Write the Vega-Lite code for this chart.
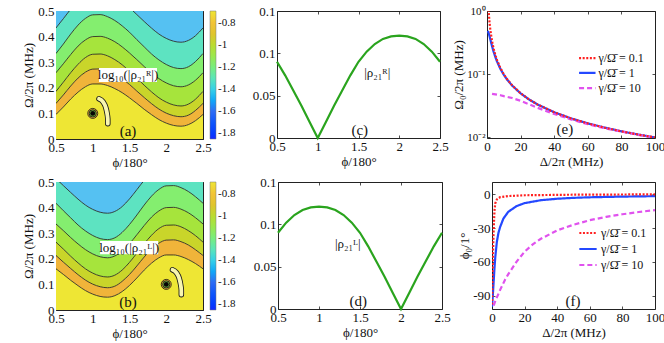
{
 "$schema": "https://vega.github.io/schema/vega-lite/v6.json",
 "background": "white",
 "padding": {"left": 22, "top": 4, "right": 0, "bottom": 0},
 "config": {
  "font": "Times New Roman, Liberation Serif, serif",
  "view": {"stroke": "#222", "strokeWidth": 1},
  "axis": {"grid": false, "domain": false, "tickColor": "#222", "tickSize": -3, "tickWidth": 0.8, "labelPadding": 5, "labelFontSize": 13, "labelColor": "#111", "labelFlush": false, "labelOverlap": false, "labelFont": "Times New Roman, Liberation Serif, serif", "titleFont": "Times New Roman, Liberation Serif, serif", "titleFontSize": 13, "titleFontWeight": "normal", "titleColor": "#111", "titlePadding": 2},
  "legend": {"labelFont": "Times New Roman, Liberation Serif, serif", "labelColor": "#111"},
  "text": {"font": "Times New Roman, Liberation Serif, serif", "color": "#111"}
 },
 "datasets": {
  "conA": [
   {"phi":0.5,"l1":0.434,"l2":0.334,"l3":0.259,"l4":0.186,"l5":0.139,"l6":0.096},
   {"phi":0.6,"l1":0.470,"l2":0.371,"l3":0.294,"l4":0.222,"l5":0.172,"l6":0.125},
   {"phi":0.7,"l1":0.507,"l2":0.410,"l3":0.330,"l4":0.259,"l5":0.207,"l6":0.156},
   {"phi":0.8,"l1":0.540,"l2":0.445,"l3":0.363,"l4":0.292,"l5":0.238,"l6":0.183},
   {"phi":0.9,"l1":0.565,"l2":0.471,"l3":0.387,"l4":0.318,"l5":0.261,"l6":0.204},
   {"phi":1.0,"l1":0.578,"l2":0.485,"l3":0.400,"l4":0.331,"l5":0.273,"l6":0.215},
   {"phi":1.1,"l1":0.579,"l2":0.486,"l3":0.401,"l4":0.332,"l5":0.274,"l6":0.215},
   {"phi":1.2,"l1":0.572,"l2":0.478,"l3":0.394,"l4":0.325,"l5":0.267,"l6":0.209},
   {"phi":1.3,"l1":0.557,"l2":0.463,"l3":0.380,"l4":0.310,"l5":0.254,"l6":0.197},
   {"phi":1.4,"l1":0.537,"l2":0.442,"l3":0.360,"l4":0.290,"l5":0.235,"l6":0.181},
   {"phi":1.5,"l1":0.513,"l2":0.417,"l3":0.336,"l4":0.265,"l5":0.213,"l6":0.161},
   {"phi":1.6,"l1":0.486,"l2":0.388,"l3":0.310,"l4":0.238,"l5":0.187,"l6":0.139},
   {"phi":1.7,"l1":0.459,"l2":0.360,"l3":0.283,"l4":0.210,"l5":0.162,"l6":0.116},
   {"phi":1.8,"l1":0.433,"l2":0.332,"l3":0.258,"l4":0.184,"l5":0.138,"l6":0.095},
   {"phi":1.9,"l1":0.410,"l2":0.309,"l3":0.236,"l4":0.161,"l5":0.117,"l6":0.076},
   {"phi":2.0,"l1":0.393,"l2":0.291,"l3":0.219,"l4":0.144,"l5":0.101,"l6":0.062},
   {"phi":2.1,"l1":0.382,"l2":0.279,"l3":0.208,"l4":0.133,"l5":0.091,"l6":0.053},
   {"phi":2.2,"l1":0.378,"l2":0.275,"l3":0.204,"l4":0.129,"l5":0.087,"l6":0.050},
   {"phi":2.3,"l1":0.385,"l2":0.282,"l3":0.211,"l4":0.136,"l5":0.093,"l6":0.056},
   {"phi":2.4,"l1":0.404,"l2":0.303,"l3":0.230,"l4":0.156,"l5":0.112,"l6":0.072},
   {"phi":2.5,"l1":0.434,"l2":0.334,"l3":0.259,"l4":0.186,"l5":0.139,"l6":0.096}
  ],
  "conB": [
   {"phi":0.5,"l1":0.513,"l2":0.417,"l3":0.336,"l4":0.265,"l5":0.213,"l6":0.161},
   {"phi":0.6,"l1":0.486,"l2":0.388,"l3":0.310,"l4":0.238,"l5":0.187,"l6":0.139},
   {"phi":0.7,"l1":0.459,"l2":0.360,"l3":0.283,"l4":0.210,"l5":0.162,"l6":0.116},
   {"phi":0.8,"l1":0.433,"l2":0.332,"l3":0.258,"l4":0.184,"l5":0.138,"l6":0.095},
   {"phi":0.9,"l1":0.410,"l2":0.309,"l3":0.236,"l4":0.161,"l5":0.117,"l6":0.076},
   {"phi":1.0,"l1":0.393,"l2":0.291,"l3":0.219,"l4":0.144,"l5":0.101,"l6":0.062},
   {"phi":1.1,"l1":0.382,"l2":0.279,"l3":0.208,"l4":0.133,"l5":0.091,"l6":0.053},
   {"phi":1.2,"l1":0.378,"l2":0.275,"l3":0.204,"l4":0.129,"l5":0.087,"l6":0.050},
   {"phi":1.3,"l1":0.385,"l2":0.282,"l3":0.211,"l4":0.136,"l5":0.093,"l6":0.056},
   {"phi":1.4,"l1":0.404,"l2":0.303,"l3":0.230,"l4":0.156,"l5":0.112,"l6":0.072},
   {"phi":1.5,"l1":0.434,"l2":0.334,"l3":0.259,"l4":0.186,"l5":0.139,"l6":0.096},
   {"phi":1.6,"l1":0.470,"l2":0.371,"l3":0.294,"l4":0.222,"l5":0.172,"l6":0.125},
   {"phi":1.7,"l1":0.507,"l2":0.410,"l3":0.330,"l4":0.259,"l5":0.207,"l6":0.156},
   {"phi":1.8,"l1":0.540,"l2":0.445,"l3":0.363,"l4":0.292,"l5":0.238,"l6":0.183},
   {"phi":1.9,"l1":0.565,"l2":0.471,"l3":0.387,"l4":0.318,"l5":0.261,"l6":0.204},
   {"phi":2.0,"l1":0.578,"l2":0.485,"l3":0.400,"l4":0.331,"l5":0.273,"l6":0.215},
   {"phi":2.1,"l1":0.579,"l2":0.486,"l3":0.401,"l4":0.332,"l5":0.274,"l6":0.215},
   {"phi":2.2,"l1":0.572,"l2":0.478,"l3":0.394,"l4":0.325,"l5":0.267,"l6":0.209},
   {"phi":2.3,"l1":0.557,"l2":0.463,"l3":0.380,"l4":0.310,"l5":0.254,"l6":0.197},
   {"phi":2.4,"l1":0.537,"l2":0.442,"l3":0.360,"l4":0.290,"l5":0.235,"l6":0.181},
   {"phi":2.5,"l1":0.513,"l2":0.417,"l3":0.336,"l4":0.265,"l5":0.213,"l6":0.161}
  ],
  "cresA": [
   {"i":1,"phi":1.085,"om":0.157},{"i":2,"phi":1.14,"om":0.145},{"i":3,"phi":1.175,"om":0.125},
   {"i":4,"phi":1.195,"om":0.1},{"i":5,"phi":1.205,"om":0.078},{"i":6,"phi":1.205,"om":0.06}
  ],
  "cresB": [
   {"i":1,"phi":2.085,"om":0.157},{"i":2,"phi":2.14,"om":0.145},{"i":3,"phi":2.175,"om":0.125},
   {"i":4,"phi":2.195,"om":0.1},{"i":5,"phi":2.205,"om":0.078},{"i":6,"phi":2.205,"om":0.06}
  ],
  "rhoR": [
   {"phi":0.5,"v":0.090},{"phi":0.6,"v":0.074},{"phi":0.7,"v":0.056},{"phi":0.8,"v":0.038},{"phi":0.9,"v":0.019},
   {"phi":1.0,"v":0.0},{"phi":1.1,"v":0.019},{"phi":1.2,"v":0.038},{"phi":1.3,"v":0.056},{"phi":1.4,"v":0.074},
   {"phi":1.5,"v":0.090},{"phi":1.6,"v":0.102},{"phi":1.7,"v":0.111},{"phi":1.8,"v":0.117},{"phi":1.9,"v":0.120},
   {"phi":2.0,"v":0.121},{"phi":2.1,"v":0.120},{"phi":2.2,"v":0.117},{"phi":2.3,"v":0.111},{"phi":2.4,"v":0.102},
   {"phi":2.5,"v":0.090}
  ],
  "rhoL": [
   {"phi":0.5,"v":0.090},{"phi":0.6,"v":0.102},{"phi":0.7,"v":0.111},{"phi":0.8,"v":0.117},{"phi":0.9,"v":0.120},
   {"phi":1.0,"v":0.121},{"phi":1.1,"v":0.120},{"phi":1.2,"v":0.117},{"phi":1.3,"v":0.111},{"phi":1.4,"v":0.102},
   {"phi":1.5,"v":0.090},{"phi":1.6,"v":0.074},{"phi":1.7,"v":0.056},{"phi":1.8,"v":0.038},{"phi":1.9,"v":0.019},
   {"phi":2.0,"v":0.0},{"phi":2.1,"v":0.019},{"phi":2.2,"v":0.038},{"phi":2.3,"v":0.056},{"phi":2.4,"v":0.074},
   {"phi":2.5,"v":0.090}
  ],
  "om0": [
   {"g":"1","d":0.5,"v":0.485},{"g":"1","d":1,"v":0.447},{"g":"1","d":1.5,"v":0.4},{"g":"1","d":2,"v":0.354},
   {"g":"1","d":3,"v":0.277},{"g":"1","d":4,"v":0.224},{"g":"1","d":5,"v":0.186},{"g":"1","d":6,"v":0.158},
   {"g":"1","d":8,"v":0.121},{"g":"1","d":10,"v":0.098},{"g":"1","d":12,"v":0.082},{"g":"1","d":15,"v":0.066},
   {"g":"1","d":20,"v":0.0498},{"g":"1","d":25,"v":0.0399},{"g":"1","d":30,"v":0.0333},{"g":"1","d":40,"v":0.025},
   {"g":"1","d":50,"v":0.02},{"g":"1","d":60,"v":0.0167},{"g":"1","d":70,"v":0.0143},{"g":"1","d":80,"v":0.0125},
   {"g":"1","d":90,"v":0.0111},{"g":"1","d":100,"v":0.01},
   {"g":"10","d":3,"v":0.049},{"g":"10","d":5,"v":0.048},{"g":"10","d":8,"v":0.0465},{"g":"10","d":10,"v":0.045},
   {"g":"10","d":15,"v":0.042},{"g":"10","d":20,"v":0.038},{"g":"10","d":25,"v":0.0335},{"g":"10","d":30,"v":0.0295},
   {"g":"10","d":40,"v":0.0235},{"g":"10","d":50,"v":0.0192},{"g":"10","d":60,"v":0.0162},{"g":"10","d":70,"v":0.014},
   {"g":"10","d":80,"v":0.0124},{"g":"10","d":90,"v":0.011},{"g":"10","d":100,"v":0.0099},
   {"g":"0.1","d":0.8,"v":1.2},{"g":"0.1","d":1,"v":0.97},{"g":"0.1","d":1.5,"v":0.66},{"g":"0.1","d":2,"v":0.5},
   {"g":"0.1","d":3,"v":0.333},{"g":"0.1","d":4,"v":0.25},{"g":"0.1","d":5,"v":0.2},{"g":"0.1","d":6,"v":0.167},
   {"g":"0.1","d":8,"v":0.125},{"g":"0.1","d":10,"v":0.1},{"g":"0.1","d":12,"v":0.0833},{"g":"0.1","d":15,"v":0.0667},
   {"g":"0.1","d":20,"v":0.05},{"g":"0.1","d":25,"v":0.04},{"g":"0.1","d":30,"v":0.0333},{"g":"0.1","d":40,"v":0.025},
   {"g":"0.1","d":50,"v":0.02},{"g":"0.1","d":60,"v":0.0167},{"g":"0.1","d":70,"v":0.0143},{"g":"0.1","d":80,"v":0.0125},
   {"g":"0.1","d":90,"v":0.0111},{"g":"0.1","d":100,"v":0.01}
  ],
  "phi0": [
   {"g":"1","d":0,"v":-100},{"g":"1","d":0.5,"v":-90},{"g":"1","d":1,"v":-78},{"g":"1","d":1.5,"v":-66},
   {"g":"1","d":2,"v":-56},{"g":"1","d":3,"v":-42},{"g":"1","d":4,"v":-34},{"g":"1","d":5,"v":-29},
   {"g":"1","d":7,"v":-21.5},{"g":"1","d":10,"v":-15.5},{"g":"1","d":15,"v":-10.5},{"g":"1","d":20,"v":-7.8},
   {"g":"1","d":30,"v":-5.2},{"g":"1","d":40,"v":-3.9},{"g":"1","d":50,"v":-3.1},{"g":"1","d":60,"v":-2.6},
   {"g":"1","d":80,"v":-2},{"g":"1","d":100,"v":-1.6},
   {"g":"10","d":1,"v":-99},{"g":"10","d":2,"v":-95},{"g":"10","d":5,"v":-85},{"g":"10","d":8,"v":-76},
   {"g":"10","d":10,"v":-71},{"g":"10","d":15,"v":-60},{"g":"10","d":20,"v":-51},{"g":"10","d":25,"v":-44.5},
   {"g":"10","d":30,"v":-39.5},{"g":"10","d":40,"v":-32},{"g":"10","d":50,"v":-27},{"g":"10","d":60,"v":-23},
   {"g":"10","d":70,"v":-20},{"g":"10","d":80,"v":-17.7},{"g":"10","d":90,"v":-15.7},{"g":"10","d":100,"v":-14},
   {"g":"0.1","d":0,"v":-98},{"g":"0.1","d":0.25,"v":-80},{"g":"0.1","d":0.5,"v":-60},{"g":"0.1","d":0.75,"v":-45},
   {"g":"0.1","d":1,"v":-33},{"g":"0.1","d":1.5,"v":-15},{"g":"0.1","d":2,"v":-8},{"g":"0.1","d":3,"v":-4.5},
   {"g":"0.1","d":5,"v":-2.5},{"g":"0.1","d":10,"v":-1.5},{"g":"0.1","d":20,"v":-0.8},{"g":"0.1","d":50,"v":-0.3},
   {"g":"0.1","d":100,"v":0}
  ]
 },
 "spacing": 5,
 "resolve": {"scale": {"color": "independent", "stroke": "independent", "strokeDash": "independent"}, "legend": {"color": "independent", "stroke": "independent", "strokeDash": "independent"}},
 "vconcat": [
  {
   "spacing": 3,
   "resolve": {"scale": {"color": "independent", "stroke": "independent", "strokeDash": "independent"}, "legend": {"color": "independent", "stroke": "independent", "strokeDash": "independent"}},
   "hconcat": [
    {
     "spacing": 14,
     "resolve": {"scale": {"color": "independent"}, "legend": {"color": "independent"}},
     "hconcat": [
    {
     "width": 147, "height": 128,
     "data": {"name": "conA"},
     "resolve": {"axis": {"x": "independent", "y": "independent"}},
     "layer": [
      {"mark": {"type": "area", "interpolate": "monotone", "clip": true},
       "encoding": {
        "x": {"field": "phi", "type": "quantitative", "scale": {"domain": [0.5, 2.5], "nice": false, "zero": false}, "axis": {"orient": "bottom", "values": [0.5, 1, 1.5, 2, 2.5], "format": "~g", "labelOverlap": false, "title": "ϕ/180°"}},
        "y": {"field": "l1", "type": "quantitative", "scale": {"domain": [0, 0.5], "nice": false}, "axis": {"orient": "left", "values": [0, 0.1, 0.2, 0.3, 0.4, 0.5], "format": "~g", "labelOverlap": false, "title": "Ω/2π (MHz)"}},
        "y2": {"datum": 0.6},
        "color": {"datum": -1.45, "type": "quantitative",
          "scale": {"domain": [-1.85, -1.6, -1.45, -1.32, -1.18, -1.06, -0.95, -0.85, -0.69], "range": ["#1428ff", "#2f6cf4", "#55c1f2", "#5de3c1", "#84ee6f", "#a6e43c", "#c9d52a", "#f0b43a", "#eee634"]},
          "legend": {"title": null, "orient": "right", "offset": 6, "padding": 0, "gradientLength": 128, "gradientThickness": 6, "gradientStrokeColor": "#777", "gradientStrokeWidth": 0.5, "values": [-1.8, -1.6, -1.4, -1.2, -1, -0.8], "labelExpr": "'-' + format(-datum.value, '~g')", "labelFontSize": 11, "labelOffset": 2, "labelOverlap": false}}
       }},
      {"mark": {"type": "area", "interpolate": "monotone", "clip": true},
       "encoding": {"x": {"field": "phi", "type": "quantitative", "axis": {"orient": "top", "values": [0.5, 1, 1.5, 2, 2.5], "labels": false, "title": null}}, "y": {"field": "l2", "type": "quantitative", "axis": {"orient": "right", "values": [0, 0.1, 0.2, 0.3, 0.4, 0.5], "labels": false, "title": null}}, "y2": {"field": "l1"}, "color": {"datum": -1.32, "type": "quantitative"}}},
      {"mark": {"type": "area", "interpolate": "monotone", "clip": true},
       "encoding": {"x": {"field": "phi", "type": "quantitative", "axis": null}, "y": {"field": "l3", "type": "quantitative", "axis": null}, "y2": {"field": "l2"}, "color": {"datum": -1.18, "type": "quantitative"}}},
      {"mark": {"type": "area", "interpolate": "monotone", "clip": true},
       "encoding": {"x": {"field": "phi", "type": "quantitative", "axis": null}, "y": {"field": "l4", "type": "quantitative", "axis": null}, "y2": {"field": "l3"}, "color": {"datum": -1.06, "type": "quantitative"}}},
      {"mark": {"type": "area", "interpolate": "monotone", "clip": true},
       "encoding": {"x": {"field": "phi", "type": "quantitative", "axis": null}, "y": {"field": "l5", "type": "quantitative", "axis": null}, "y2": {"field": "l4"}, "color": {"datum": -0.95, "type": "quantitative"}}},
      {"mark": {"type": "area", "interpolate": "monotone", "clip": true},
       "encoding": {"x": {"field": "phi", "type": "quantitative", "axis": null}, "y": {"field": "l6", "type": "quantitative", "axis": null}, "y2": {"field": "l5"}, "color": {"datum": -0.85, "type": "quantitative"}}},
      {"mark": {"type": "area", "interpolate": "monotone", "clip": true},
       "encoding": {"x": {"field": "phi", "type": "quantitative", "axis": null}, "y": {"field": "l6", "type": "quantitative", "axis": null}, "y2": {"datum": 0}, "color": {"datum": -0.69, "type": "quantitative"}}},
      {"transform": [{"fold": ["l1", "l2", "l3", "l4", "l5", "l6"], "as": ["k", "om"]}],
       "mark": {"type": "line", "interpolate": "monotone", "clip": true, "color": "#1a1a1a", "strokeWidth": 0.8},
       "encoding": {"x": {"field": "phi", "type": "quantitative", "axis": null}, "y": {"field": "om", "type": "quantitative", "axis": null}, "detail": {"field": "k"}}},
      {"data": {"name": "cresA"}, "mark": {"type": "line", "color": "#1a1a1a", "strokeWidth": 5.5, "strokeCap": "round", "interpolate": "monotone"},
       "encoding": {"x": {"field": "phi", "type": "quantitative", "axis": null}, "y": {"field": "om", "type": "quantitative", "axis": null}, "order": {"field": "i"}}},
      {"data": {"name": "cresA"}, "mark": {"type": "line", "color": "#f8f6b0", "strokeWidth": 3.8, "strokeCap": "round", "interpolate": "monotone"},
       "encoding": {"x": {"field": "phi", "type": "quantitative", "axis": null}, "y": {"field": "om", "type": "quantitative", "axis": null}, "order": {"field": "i"}}},
      {"data": {"values": [{"phi": 1.0, "om": 0.1}]}, "mark": {"type": "point", "shape": "circle", "filled": true, "size": 100, "fill": "#e8a838", "stroke": "#111", "strokeWidth": 0.8, "opacity": 1},
       "encoding": {"x": {"field": "phi", "type": "quantitative", "axis": null}, "y": {"field": "om", "type": "quantitative", "axis": null}}},
      {"data": {"values": [{"phi": 1.0, "om": 0.1}]}, "mark": {"type": "point", "shape": "circle", "filled": true, "size": 52, "fill": "#6fae3e", "stroke": "#111", "strokeWidth": 0.8, "opacity": 1},
       "encoding": {"x": {"field": "phi", "type": "quantitative", "axis": null}, "y": {"field": "om", "type": "quantitative", "axis": null}}},
      {"data": {"values": [{"phi": 1.0, "om": 0.1}]}, "mark": {"type": "point", "shape": "circle", "filled": true, "size": 24, "fill": "#050505", "opacity": 1},
       "encoding": {"x": {"field": "phi", "type": "quantitative", "axis": null}, "y": {"field": "om", "type": "quantitative", "axis": null}}},
      {"data": {"values": [{}]}, "mark": {"type": "rect", "fill": "white"},
       "encoding": {"x": {"datum": 1.085, "axis": null}, "x2": {"datum": 1.874}, "y": {"datum": 0.223, "axis": null}, "y2": {"datum": 0.277}}},
      {"data": {"values": [{}]}, "mark": {"type": "text", "text": "log₁₀(|ρ₂₁ᴿ|)", "fontSize": 13, "align": "center", "baseline": "middle"},
       "encoding": {"x": {"datum": 1.48, "axis": null}, "y": {"datum": 0.25, "axis": null}}},
      {"data": {"values": [{}]}, "mark": {"type": "text", "text": "(a)", "fontSize": 15, "align": "center", "baseline": "alphabetic"},
       "encoding": {"x": {"datum": 1.48, "axis": null}, "y": {"datum": 0.012, "axis": null}}}
     ]
    },
    {
     "width": 163, "height": 127,
     "data": {"name": "rhoR"},
     "resolve": {"axis": {"x": "independent", "y": "independent"}},
     "layer": [
      {"mark": {"type": "line", "color": "#2aa41e", "strokeWidth": 2.2},
       "encoding": {
        "x": {"field": "phi", "type": "quantitative", "scale": {"domain": [0.5, 2.5], "nice": false, "zero": false}, "axis": {"orient": "bottom", "values": [0.5, 1, 1.5, 2, 2.5], "format": "~g", "labelOverlap": false, "title": "ϕ/180°"}},
        "y": {"field": "v", "type": "quantitative", "scale": {"domain": [0, 0.15], "nice": false}, "axis": {"orient": "left", "values": [0, 0.05, 0.1, 0.15], "format": "~g", "labelOverlap": false, "title": null}}
       }},
      {"mark": {"type": "line", "opacity": 0},
       "encoding": {"x": {"field": "phi", "type": "quantitative", "axis": {"orient": "top", "values": [0.5, 1, 1.5, 2, 2.5], "labels": false, "title": null}}, "y": {"field": "v", "type": "quantitative", "axis": {"orient": "right", "values": [0, 0.05, 0.1, 0.15], "labels": false, "title": null}}}},
      {"data": {"values": [{}]}, "mark": {"type": "text", "text": "|ρ₂₁ᴿ|", "fontSize": 13, "align": "center", "baseline": "middle"},
       "encoding": {"x": {"datum": 1.73, "axis": null}, "y": {"datum": 0.077, "axis": null}}},
      {"data": {"values": [{}]}, "mark": {"type": "text", "text": "(c)", "fontSize": 15, "align": "center", "baseline": "alphabetic"},
       "encoding": {"x": {"datum": 1.515, "axis": null}, "y": {"datum": 0.0035, "axis": null}}}
     ]
    }
     ]
    },
    {
     "width": 168, "height": 127,
     "data": {"name": "om0"},
     "resolve": {"axis": {"x": "independent", "y": "independent"}},
     "layer": [
      {"mark": {"type": "line", "strokeWidth": 2.2, "clip": true},
       "encoding": {
        "x": {"field": "d", "type": "quantitative", "scale": {"domain": [0, 100], "nice": false}, "axis": {"orient": "bottom", "values": [0, 20, 40, 60, 80, 100], "format": "d", "labelOverlap": false, "title": "Δ/2π (MHz)"}},
        "y": {"field": "v", "type": "quantitative", "scale": {"type": "log", "domain": [0.0098, 1], "nice": false}, "axis": {"orient": "left", "values": [0.01, 0.1, 1], "labelOverlap": false, "labelFontSize": 11, "titlePadding": 1, "title": "Ω₀/2π (MHz)", "labelExpr": "datum.value > 0.5 ? '10⁰' : datum.value > 0.05 ? '10⁻¹' : '10⁻²'"}},
        "stroke": {"field": "g", "type": "nominal", "scale": {"domain": ["0.1", "1", "10"], "range": ["#ff2020", "#2448ff", "#e052ee"]}, "legend": null},
        "strokeDash": {"field": "g", "type": "nominal", "scale": {"domain": ["0.1", "1", "10"], "range": [[2, 1.6], [1, 0], [5, 3]]}, "legend": null}
       }},
      {"data": {"values": [{}]}, "mark": {"type": "rule", "stroke": "#ff2020", "strokeWidth": 2.2, "strokeDash": [2, 1.6]},
       "encoding": {"x": {"datum": 54.8, "axis": null}, "x2": {"datum": 64.6}, "y": {"datum": 0.1795, "axis": null}}},
      {"data": {"values": [{}]}, "mark": {"type": "rule", "stroke": "#2448ff", "strokeWidth": 2.2},
       "encoding": {"x": {"datum": 54.8, "axis": null}, "x2": {"datum": 64.6}, "y": {"datum": 0.105, "axis": null}}},
      {"data": {"values": [{}]}, "mark": {"type": "rule", "stroke": "#e052ee", "strokeWidth": 2.2, "strokeDash": [5, 3]},
       "encoding": {"x": {"datum": 54.8, "axis": null}, "x2": {"datum": 64.6}, "y": {"datum": 0.0603, "axis": null}}},
      {"data": {"values": [{}]}, "mark": {"type": "text", "text": "γ/Ω̄ = 0.1", "fontSize": 12, "align": "left", "baseline": "middle"},
       "encoding": {"x": {"datum": 66.3, "axis": null}, "y": {"datum": 0.1795, "axis": null}}},
      {"data": {"values": [{}]}, "mark": {"type": "text", "text": "γ/Ω̄ = 1", "fontSize": 12, "align": "left", "baseline": "middle"},
       "encoding": {"x": {"datum": 66.3, "axis": null}, "y": {"datum": 0.105, "axis": null}}},
      {"data": {"values": [{}]}, "mark": {"type": "text", "text": "γ/Ω̄ = 10", "fontSize": 12, "align": "left", "baseline": "middle"},
       "encoding": {"x": {"datum": 66.3, "axis": null}, "y": {"datum": 0.0603, "axis": null}}},
      {"data": {"values": [{}]}, "mark": {"type": "text", "text": "(e)", "fontSize": 15, "align": "center", "baseline": "alphabetic"},
       "encoding": {"x": {"datum": 46.4, "axis": {"orient": "top", "values": [0, 20, 40, 60, 80, 100], "labels": false, "title": null}}, "y": {"datum": 0.0112, "axis": {"orient": "right", "values": [0.01, 0.1, 1], "labels": false, "title": null}}}}
     ]
    }
   ]
  },
  {
   "spacing": 7,
   "resolve": {"scale": {"color": "independent", "stroke": "independent", "strokeDash": "independent"}, "legend": {"color": "independent", "stroke": "independent", "strokeDash": "independent"}},
   "hconcat": [
    {
     "spacing": 15,
     "resolve": {"scale": {"color": "independent"}, "legend": {"color": "independent"}},
     "hconcat": [
    {
     "width": 147, "height": 128,
     "data": {"name": "conB"},
     "resolve": {"axis": {"x": "independent", "y": "independent"}},
     "layer": [
      {"mark": {"type": "area", "interpolate": "monotone", "clip": true},
       "encoding": {
        "x": {"field": "phi", "type": "quantitative", "scale": {"domain": [0.5, 2.5], "nice": false, "zero": false}, "axis": {"orient": "bottom", "values": [0.5, 1, 1.5, 2, 2.5], "format": "~g", "labelOverlap": false, "title": "ϕ/180°"}},
        "y": {"field": "l1", "type": "quantitative", "scale": {"domain": [0, 0.5], "nice": false}, "axis": {"orient": "left", "values": [0, 0.1, 0.2, 0.3, 0.4, 0.5], "format": "~g", "labelOverlap": false, "title": "Ω/2π (MHz)"}},
        "y2": {"datum": 0.6},
        "color": {"datum": -1.45, "type": "quantitative",
          "scale": {"domain": [-1.85, -1.6, -1.45, -1.32, -1.18, -1.06, -0.95, -0.85, -0.69], "range": ["#1428ff", "#2f6cf4", "#55c1f2", "#5de3c1", "#84ee6f", "#a6e43c", "#c9d52a", "#f0b43a", "#eee634"]},
          "legend": {"title": null, "orient": "right", "offset": 6, "padding": 0, "gradientLength": 128, "gradientThickness": 6, "gradientStrokeColor": "#777", "gradientStrokeWidth": 0.5, "values": [-1.8, -1.6, -1.4, -1.2, -1, -0.8], "labelExpr": "'-' + format(-datum.value, '~g')", "labelFontSize": 11, "labelOffset": 2, "labelOverlap": false}}
       }},
      {"mark": {"type": "area", "interpolate": "monotone", "clip": true},
       "encoding": {"x": {"field": "phi", "type": "quantitative", "axis": {"orient": "top", "values": [0.5, 1, 1.5, 2, 2.5], "labels": false, "title": null}}, "y": {"field": "l2", "type": "quantitative", "axis": {"orient": "right", "values": [0, 0.1, 0.2, 0.3, 0.4, 0.5], "labels": false, "title": null}}, "y2": {"field": "l1"}, "color": {"datum": -1.32, "type": "quantitative"}}},
      {"mark": {"type": "area", "interpolate": "monotone", "clip": true},
       "encoding": {"x": {"field": "phi", "type": "quantitative", "axis": null}, "y": {"field": "l3", "type": "quantitative", "axis": null}, "y2": {"field": "l2"}, "color": {"datum": -1.18, "type": "quantitative"}}},
      {"mark": {"type": "area", "interpolate": "monotone", "clip": true},
       "encoding": {"x": {"field": "phi", "type": "quantitative", "axis": null}, "y": {"field": "l4", "type": "quantitative", "axis": null}, "y2": {"field": "l3"}, "color": {"datum": -1.06, "type": "quantitative"}}},
      {"mark": {"type": "area", "interpolate": "monotone", "clip": true},
       "encoding": {"x": {"field": "phi", "type": "quantitative", "axis": null}, "y": {"field": "l5", "type": "quantitative", "axis": null}, "y2": {"field": "l4"}, "color": {"datum": -0.95, "type": "quantitative"}}},
      {"mark": {"type": "area", "interpolate": "monotone", "clip": true},
       "encoding": {"x": {"field": "phi", "type": "quantitative", "axis": null}, "y": {"field": "l6", "type": "quantitative", "axis": null}, "y2": {"field": "l5"}, "color": {"datum": -0.85, "type": "quantitative"}}},
      {"mark": {"type": "area", "interpolate": "monotone", "clip": true},
       "encoding": {"x": {"field": "phi", "type": "quantitative", "axis": null}, "y": {"field": "l6", "type": "quantitative", "axis": null}, "y2": {"datum": 0}, "color": {"datum": -0.69, "type": "quantitative"}}},
      {"transform": [{"fold": ["l1", "l2", "l3", "l4", "l5", "l6"], "as": ["k", "om"]}],
       "mark": {"type": "line", "interpolate": "monotone", "clip": true, "color": "#1a1a1a", "strokeWidth": 0.8},
       "encoding": {"x": {"field": "phi", "type": "quantitative", "axis": null}, "y": {"field": "om", "type": "quantitative", "axis": null}, "detail": {"field": "k"}}},
      {"data": {"name": "cresB"}, "mark": {"type": "line", "color": "#1a1a1a", "strokeWidth": 5.5, "strokeCap": "round", "interpolate": "monotone"},
       "encoding": {"x": {"field": "phi", "type": "quantitative", "axis": null}, "y": {"field": "om", "type": "quantitative", "axis": null}, "order": {"field": "i"}}},
      {"data": {"name": "cresB"}, "mark": {"type": "line", "color": "#f8f6b0", "strokeWidth": 3.8, "strokeCap": "round", "interpolate": "monotone"},
       "encoding": {"x": {"field": "phi", "type": "quantitative", "axis": null}, "y": {"field": "om", "type": "quantitative", "axis": null}, "order": {"field": "i"}}},
      {"data": {"values": [{"phi": 2.0, "om": 0.1}]}, "mark": {"type": "point", "shape": "circle", "filled": true, "size": 100, "fill": "#e8a838", "stroke": "#111", "strokeWidth": 0.8, "opacity": 1},
       "encoding": {"x": {"field": "phi", "type": "quantitative", "axis": null}, "y": {"field": "om", "type": "quantitative", "axis": null}}},
      {"data": {"values": [{"phi": 2.0, "om": 0.1}]}, "mark": {"type": "point", "shape": "circle", "filled": true, "size": 52, "fill": "#6fae3e", "stroke": "#111", "strokeWidth": 0.8, "opacity": 1},
       "encoding": {"x": {"field": "phi", "type": "quantitative", "axis": null}, "y": {"field": "om", "type": "quantitative", "axis": null}}},
      {"data": {"values": [{"phi": 2.0, "om": 0.1}]}, "mark": {"type": "point", "shape": "circle", "filled": true, "size": 24, "fill": "#050505", "opacity": 1},
       "encoding": {"x": {"field": "phi", "type": "quantitative", "axis": null}, "y": {"field": "om", "type": "quantitative", "axis": null}}},
      {"data": {"values": [{}]}, "mark": {"type": "rect", "fill": "white"},
       "encoding": {"x": {"datum": 1.1, "axis": null}, "x2": {"datum": 1.89}, "y": {"datum": 0.218, "axis": null}, "y2": {"datum": 0.27}}},
      {"data": {"values": [{}]}, "mark": {"type": "text", "text": "log₁₀(|ρ₂₁ᴸ|)", "fontSize": 13, "align": "center", "baseline": "middle"},
       "encoding": {"x": {"datum": 1.495, "axis": null}, "y": {"datum": 0.244, "axis": null}}},
      {"data": {"values": [{}]}, "mark": {"type": "text", "text": "(b)", "fontSize": 15, "align": "center", "baseline": "alphabetic"},
       "encoding": {"x": {"datum": 1.48, "axis": null}, "y": {"datum": 0.012, "axis": null}}}
     ]
    },
    {
     "width": 164, "height": 127,
     "data": {"name": "rhoL"},
     "resolve": {"axis": {"x": "independent", "y": "independent"}},
     "layer": [
      {"mark": {"type": "line", "color": "#2aa41e", "strokeWidth": 2.2},
       "encoding": {
        "x": {"field": "phi", "type": "quantitative", "scale": {"domain": [0.5, 2.5], "nice": false, "zero": false}, "axis": {"orient": "bottom", "values": [0.5, 1, 1.5, 2, 2.5], "format": "~g", "labelOverlap": false, "title": "ϕ/180°"}},
        "y": {"field": "v", "type": "quantitative", "scale": {"domain": [0, 0.15], "nice": false}, "axis": {"orient": "left", "values": [0, 0.05, 0.1, 0.15], "format": "~g", "labelOverlap": false, "title": null}}
       }},
      {"mark": {"type": "line", "opacity": 0},
       "encoding": {"x": {"field": "phi", "type": "quantitative", "axis": {"orient": "top", "values": [0.5, 1, 1.5, 2, 2.5], "labels": false, "title": null}}, "y": {"field": "v", "type": "quantitative", "axis": {"orient": "right", "values": [0, 0.05, 0.1, 0.15], "labels": false, "title": null}}}},
      {"data": {"values": [{}]}, "mark": {"type": "text", "text": "|ρ₂₁ᴸ|", "fontSize": 13, "align": "center", "baseline": "middle"},
       "encoding": {"x": {"datum": 1.35, "axis": null}, "y": {"datum": 0.077, "axis": null}}},
      {"data": {"values": [{}]}, "mark": {"type": "text", "text": "(d)", "fontSize": 15, "align": "center", "baseline": "alphabetic"},
       "encoding": {"x": {"datum": 1.48, "axis": null}, "y": {"datum": 0.0035, "axis": null}}}
     ]
    }
     ]
    },
    {
     "width": 163, "height": 127,
     "data": {"name": "phi0"},
     "resolve": {"axis": {"x": "independent", "y": "independent"}},
     "layer": [
      {"mark": {"type": "line", "strokeWidth": 2.2, "clip": true},
       "encoding": {
        "x": {"field": "d", "type": "quantitative", "scale": {"domain": [0, 100], "nice": false}, "axis": {"orient": "bottom", "values": [0, 20, 40, 60, 80, 100], "format": "d", "labelOverlap": false, "title": "Δ/2π (MHz)"}},
        "y": {"field": "v", "type": "quantitative", "scale": {"domain": [-102, 11], "nice": false, "zero": false}, "axis": {"orient": "left", "values": [0, -30, -60, -90], "labelOverlap": false, "titlePadding": 1, "title": "ϕ₀/1°", "labelExpr": "datum.value < 0 ? '-' + format(-datum.value, 'd') : format(datum.value, 'd')"}},
        "stroke": {"field": "g", "type": "nominal", "scale": {"domain": ["0.1", "1", "10"], "range": ["#ff2020", "#2448ff", "#e052ee"]},
          "legend": {"title": null, "orient": "none", "legendX": 86, "legendY": 41, "symbolType": "stroke", "symbolSize": 300, "symbolStrokeWidth": 2.2, "labelFontSize": 12, "labelOffset": 3, "rowPadding": -4, "padding": 0, "labelLimit": 0, "labelExpr": "'γ/Ω̄ = ' + datum.label"}},
        "strokeDash": {"field": "g", "type": "nominal", "scale": {"domain": ["0.1", "1", "10"], "range": [[2, 1.6], [1, 0], [5, 3]]},
          "legend": {"title": null, "orient": "none", "legendX": 86, "legendY": 41, "symbolType": "stroke", "symbolSize": 300, "symbolStrokeWidth": 2.2, "labelFontSize": 12, "labelOffset": 3, "rowPadding": -4, "padding": 0, "labelLimit": 0, "labelExpr": "'γ/Ω̄ = ' + datum.label"}}
       }},
      {"data": {"values": [{}]}, "mark": {"type": "text", "text": "(f)", "fontSize": 15, "align": "center", "baseline": "alphabetic"},
       "encoding": {"x": {"datum": 49.7, "axis": {"orient": "top", "values": [0, 20, 40, 60, 80, 100], "labels": false, "title": null}}, "y": {"datum": -99.3, "axis": {"orient": "right", "values": [0, -30, -60, -90], "labels": false, "title": null}}}}
     ]
    }
   ]
  }
 ]
}
